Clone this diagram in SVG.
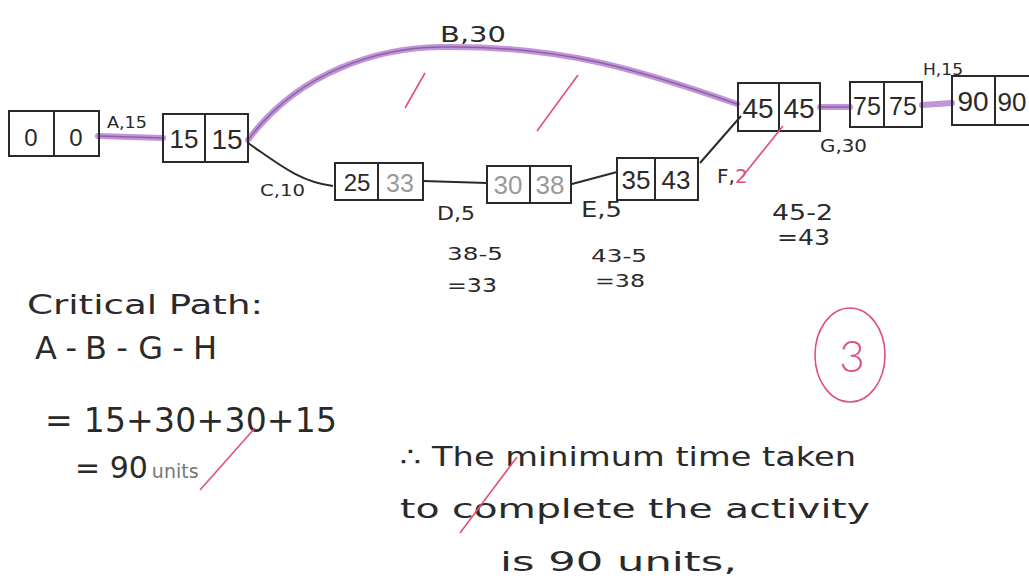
<svg xmlns="http://www.w3.org/2000/svg" width="1029" height="581" viewBox="0 0 1029 581">
<style>
.box{fill:none;stroke:#2a2a2a;stroke-width:2}
.div{stroke:#2a2a2a;stroke-width:2}
.t{font-family:"DejaVu Sans","Liberation Sans",Arial,sans-serif;fill:#2a2a2a}
.n{text-anchor:middle;font-family:"Liberation Sans",Arial,sans-serif}
.g{fill:#9a9a9a}
.crit{fill:none;stroke:#b27ad0;stroke-width:6;stroke-opacity:0.8;stroke-linecap:round}
.crit2{fill:none;stroke:#7a4a8a;stroke-width:1.5;stroke-opacity:0.7}
.thin{fill:none;stroke:#2a2a2a;stroke-width:2}
.red{fill:none;stroke:#e0507a;stroke-width:1.6}
.body{font-size:27px}
</style>
<rect width="1029" height="581" fill="#ffffff"/>
<g id="connectors">
  <path id="eA" class="crit" d="M98,136 L163,138"/>
  <path class="crit2" d="M98,136 L163,138"/>
  <path id="eB" class="crit" d="M248,140 C300,70 380,48 440,47 C560,45 640,70 737,104"/>
  <path class="crit2" d="M248,140 C300,70 380,48 440,47 C560,45 640,70 737,104"/>
  <path id="eC" class="thin" d="M248,143 C280,165 300,182 333,186"/>
  <path id="eD" class="thin" d="M423,181 L487,183" stroke-width="1.5"/>
  <path id="eE" class="thin" d="M572,184 L617,172"/>
  <path id="eF" class="thin" d="M700,163 L741,116"/>
  <path id="eG" class="crit" d="M820,107 L850,107"/>
  <path class="crit2" d="M820,107 L850,107"/>
  <path id="eH" class="crit" d="M922,105 L952,103"/>
  <text class="t" x="107" y="128" font-size="16" textLength="40" lengthAdjust="spacingAndGlyphs">A,15</text>
  <text class="t" x="440" y="42" font-size="22" textLength="66" lengthAdjust="spacingAndGlyphs">B,30</text>
  <text class="t" x="260" y="196" font-size="15" textLength="45" lengthAdjust="spacingAndGlyphs">C,10</text>
  <text class="t" x="437" y="220" font-size="20" textLength="38" lengthAdjust="spacingAndGlyphs">D,5</text>
  <text class="t" x="581" y="217" font-size="21" textLength="41" lengthAdjust="spacingAndGlyphs">E,5</text>
  <text class="t" x="717" y="183" font-size="20">F,<tspan fill="#e0507a">2</tspan></text>
  <text class="t" x="820" y="152" font-size="17" textLength="47" lengthAdjust="spacingAndGlyphs">G,30</text>
  <text class="t" x="923" y="75" font-size="15" fill="#b0b0b0" textLength="40" lengthAdjust="spacingAndGlyphs">H,15</text>
</g>
<g id="node0">
  <rect class="box" x="9" y="111" width="90" height="45"/>
  <line class="div" x1="54" y1="111" x2="54" y2="156"/>
  <text class="t n" x="31" y="146" font-size="24">0</text>
  <text class="t n" x="76" y="146" font-size="24">0</text>
</g>
<g id="node15">
  <rect class="box" x="163" y="114" width="85" height="48"/>
  <line class="div" x1="205" y1="114" x2="205" y2="162"/>
  <text class="t n" x="184" y="148" font-size="26">15</text>
  <text class="t n" x="227" y="149" font-size="28">15</text>
</g>
<g id="node25">
  <rect class="box" x="335" y="163" width="88" height="37"/>
  <line class="div" x1="378" y1="163" x2="378" y2="200" stroke="#888"/>
  <text class="t n" x="357" y="191" font-size="24">25</text>
  <text class="t n g" x="400" y="192" font-size="25">33</text>
</g>
<g id="node30">
  <rect class="box" x="487" y="166" width="84" height="37" stroke="#666"/>
  <line class="div" x1="530" y1="166" x2="530" y2="203" stroke="#888"/>
  <text class="t n g" x="508" y="194" font-size="26">30</text>
  <text class="t n g" x="550" y="194" font-size="26">38</text>
</g>
<g id="node35">
  <rect class="box" x="617" y="158" width="81" height="42"/>
  <line class="div" x1="655" y1="158" x2="655" y2="200"/>
  <text class="t n" x="636" y="189" font-size="26" fill="#666">35</text>
  <text class="t n" x="676" y="189" font-size="26">43</text>
</g>
<g id="node45">
  <rect class="box" x="738" y="83" width="82" height="48"/>
  <line class="div" x1="779" y1="83" x2="779" y2="131"/>
  <text class="t n" x="758" y="118" font-size="28">45</text>
  <text class="t n" x="799" y="118" font-size="28">45</text>
</g>
<g id="node75">
  <rect class="box" x="850" y="82" width="72" height="45"/>
  <line class="div" x1="884" y1="82" x2="884" y2="127"/>
  <text class="t n" x="867" y="115" font-size="25">75</text>
  <text class="t n" x="903" y="115" font-size="25">75</text>
</g>
<g id="node90">
  <rect class="box" x="952" y="76" width="90" height="49"/>
  <line class="div" x1="995" y1="76" x2="995" y2="125"/>
  <text class="t n" x="973" y="111" font-size="28">90</text>
  <text class="t n" x="1012" y="111" font-size="26">90</text>
</g>
<g id="annotations">
  <line class="red" x1="405" y1="108" x2="425" y2="73"/>
  <line class="red" x1="537" y1="131" x2="578" y2="75"/>
  <line class="red" x1="783" y1="126" x2="742" y2="177"/>
  <text class="t" x="447" y="260" font-size="17" fill="#aaa" textLength="56" lengthAdjust="spacingAndGlyphs">38-5</text>
  <text class="t" x="447" y="292" font-size="19" fill="#aaa" textLength="50" lengthAdjust="spacingAndGlyphs">=33</text>
  <text class="t" x="591" y="262" font-size="17" fill="#555" textLength="56" lengthAdjust="spacingAndGlyphs">43-5</text>
  <text class="t" x="595" y="287" font-size="17" fill="#aaa" textLength="50" lengthAdjust="spacingAndGlyphs">=38</text>
  <text class="t" x="772" y="220" font-size="22" textLength="61" lengthAdjust="spacingAndGlyphs">45-2</text>
  <text class="t" x="777" y="245" font-size="22" textLength="53" lengthAdjust="spacingAndGlyphs">=43</text>
  <ellipse class="red" cx="850" cy="355" rx="35" ry="47"/>
  <text x="852" y="372" font-size="44" text-anchor="middle" fill="#e0507a" font-family="Lato, Liberation Sans, sans-serif" font-weight="300">3</text>
  <text class="t" x="27" y="314" font-size="27" textLength="236" lengthAdjust="spacingAndGlyphs">Critical Path:</text>
  <text class="t" x="35" y="359" font-size="32" textLength="182" lengthAdjust="spacing">A-B-G-H</text>
  <text class="t" x="45" y="432" font-size="33" textLength="292" lengthAdjust="spacing">= 15+30+30+15</text>
  <text class="t" x="75" y="478" font-size="30">= 90<tspan font-size="19" fill="#777" dx="4">units</tspan></text>
  <line class="red" x1="255" y1="428" x2="200" y2="490"/>
  <text class="t body" x="400" y="466" textLength="456" lengthAdjust="spacingAndGlyphs">∴ The minimum time taken</text>
  <text class="t body" x="400" y="518" textLength="470" lengthAdjust="spacingAndGlyphs">to complete the activity</text>
  <text class="t body" x="500" y="571" fill="#888" textLength="237" lengthAdjust="spacingAndGlyphs">is 90 units,</text>
  <line class="red" x1="517" y1="457" x2="460" y2="533"/>
</g>
</svg>
